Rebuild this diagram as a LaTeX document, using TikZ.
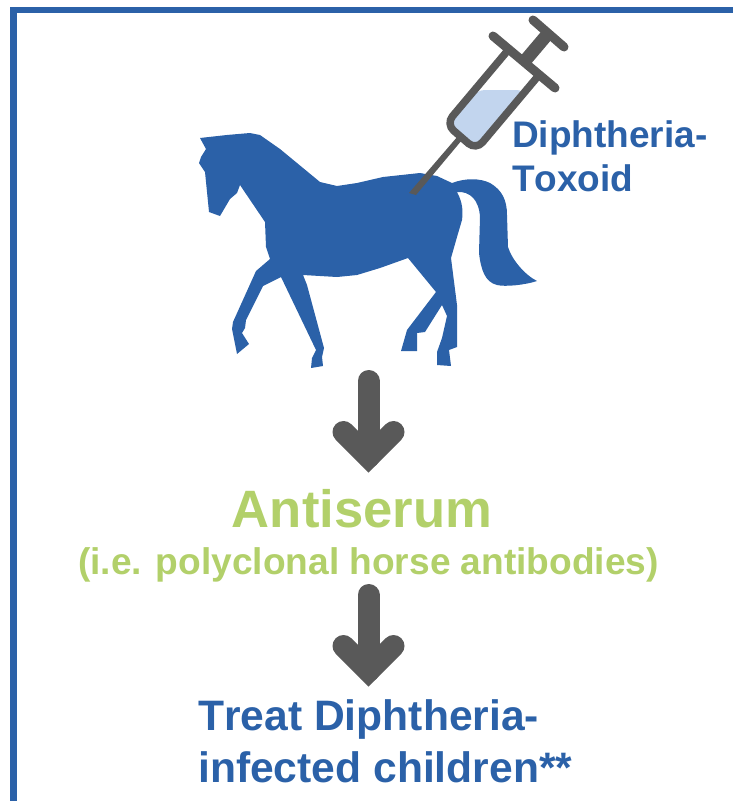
\documentclass[tikz,border=0pt]{standalone}
\usepackage{fontspec}
\setmainfont[Kerning=Off]{Liberation Sans}
\usetikzlibrary{calc,positioning}
\definecolor{frameblue}{RGB}{43,97,168}
\definecolor{serum}{RGB}{178,208,106}
\definecolor{ink}{RGB}{89,89,89}
\definecolor{liquid}{RGB}{194,213,238}
\tikzset{
  frame/.style={draw=frameblue,line width=6.5pt},
  silhouette/.style={fill=frameblue,draw=none},
  lbl/.style={inner sep=0pt,font=\bfseries,align=left},
  arrline/.style={draw=ink,line width=22pt,line cap=round},
  wall/.style={draw=ink,line width=7.5pt},
  flange/.style={draw=ink,line width=9pt,line cap=round},
  hidden/.style={inner sep=0pt,minimum width=337pt,minimum height=235pt},
}
\newcommand{\bigarr}[2]{%
  \draw[arrline] (#1) -- (#2);
  \draw[arrline] ($(#2)+(-25,-25)$) -- (#2) -- ($(#2)+(25,-25)$);
}
\begin{document}
\begin{tikzpicture}[x=1pt,y=-1pt]
\useasboundingbox (0,0) rectangle (733,801);
\draw[frame] (13.3,801) -- (13.3,10) -- (733,10);
\fill[silhouette] (200,138) -- (226.7,135) -- (250,133) -- (260,135) -- (280,149) -- (320,182)
  -- (337,186) -- (357,183) -- (383,177) -- (420,173) -- (437,176) -- (452,183)
  .. controls (465,178) and (480,178) .. (490,183) .. controls (502,190) and (507,200) .. (507,215)
  -- (508,247) .. controls (512,260) and (525,275) .. (537,281)
  .. controls (525,285) and (505,287) .. (497,285) .. controls (485,282) and (481,270) .. (479,253)
  -- (480,217) .. controls (479,200) and (470,191) .. (457,192)
  .. controls (463,203) and (463,212) .. (462,220)
  -- (457,237) -- (451,258) -- (457,305) -- (457,347) -- (449,350) -- (451,366) -- (437,365)
  -- (437,352) -- (442,338) -- (447,316) -- (442,305) -- (425,332) -- (417,333) -- (417,351)
  -- (401,351) -- (407,330) -- (436,292) -- (408,258) -- (380,268) -- (357,275) -- (337,277)
  -- (303,275) -- (307,285) -- (324,348) -- (322,357) -- (323,366) -- (311,368) -- (312,358)
  -- (316,350) -- (281,277) -- (263,286) -- (246,320) -- (245,328) -- (242,333) -- (249,344)
  -- (237,354) -- (232,329) -- (233,322) -- (256,271) -- (270,259) -- (266,247) -- (265,222)
  -- (240,185) -- (237,193) -- (230,199) -- (220,216) -- (209,212) -- (205,172) -- (199,163)
  -- (201,157) -- (206,149) -- cycle;
\node[hidden] (horse) at (368.5,250.5) {};
\coordinate (needletip) at (412,194);
\coordinate (needletop) at (460,138);
\fill[ink] ($(needletip)+(-3,-1)$) -- ($(needletop)+(-2,-2)$) -- ($(needletop)+(2,2)$)
  -- ($(needletip)+(4,1)$) -- cycle;
\fill[liquid,rounded corners=8pt] (477,90) -- (525,90) -- (476,150) -- (446,125) -- cycle;
\draw[wall,rounded corners=10pt] (509,49) -- (446,124) -- (476,150) -- (539,75);
\draw[flange] (493,36) -- (555,88);
\draw[flange] (533,20) -- (564,47);
\draw[draw=ink,line width=13pt] (524,62) -- (548.5,33);
\node[lbl,text=frameblue,font=\fontsize{37}{44}\selectfont\bfseries,anchor=west] (toxoid) at (512,156) {Diphtheria-\\Toxoid};
\node[lbl,text=serum,font=\fontsize{52.6}{60}\selectfont\bfseries] (antiserum) at (362,509) {Antiserum};
\node[lbl,text=serum,font=\fontsize{37.1}{44}\selectfont\bfseries] (antibodies) at (368.5,565) {(i.e. polyclonal horse antibodies)};
\node[lbl,text=frameblue,font=\fontsize{42.6}{52}\selectfont\bfseries,anchor=west] (treat) at (198,741) {Treat Diphtheria-\\infected children**};
\coordinate (arrA) at (horse.south |- 0,457);
\coordinate (arrB) at (antibodies.south |- 0,671);
\bigarr{368.5,381}{arrA}
\bigarr{368.5,595}{arrB}
\end{tikzpicture}
\end{document}
